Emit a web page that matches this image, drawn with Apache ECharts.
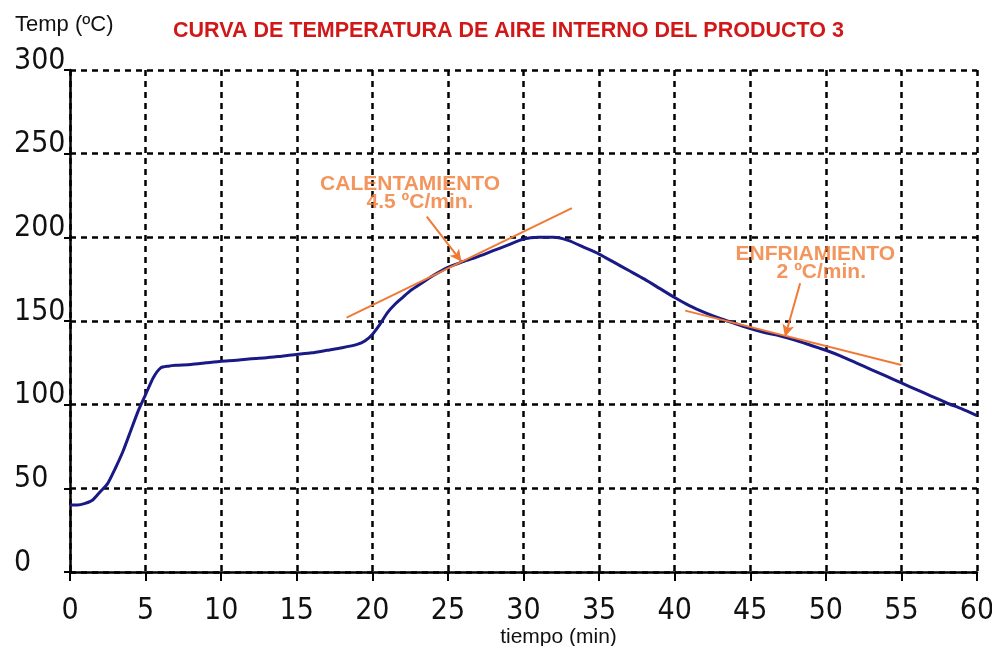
<!DOCTYPE html>
<html>
<head>
<meta charset="utf-8">
<title>Curva de temperatura</title>
<script src="https://cdn.jsdelivr.net/npm/echarts@6/dist/echarts.min.js"></script>
<style>
  html, body { margin: 0; padding: 0; background: #fff; }
  #chart { width: 992px; height: 646px; }
</style>
</head>
<body>
<div id="chart"></div>
<script>
// tiempo (min) y temperatura
var minutos = [0, 0.5, 1, 1.5, 2, 2.5, 3, 3.5, 4, 4.5, 5, 5.5, 6, 6.5, 7, 8, 9, 10, 11, 12, 13, 14, 15, 16, 17, 18, 19, 19.5, 20, 20.5, 21, 21.5, 22, 22.5, 23, 23.5, 24, 25, 26, 27, 28, 29, 30, 31, 32, 33, 34, 35, 36, 37, 38, 39, 40, 41, 42, 43, 44, 45, 46, 47, 48, 49, 50, 51, 52, 53, 54, 55, 56, 57, 58, 59, 60]
var tempAire = [40, 40, 41, 43, 48, 53, 62, 72, 84, 96, 106, 116, 122, 123, 123.5, 124, 125, 126, 126.5, 127.5, 128, 129, 130, 131, 132.5, 134, 136, 138, 142, 148, 155, 160, 164, 168, 171, 174, 177, 182, 185.5, 188.5, 192, 195.5, 199, 200, 200, 198, 194, 190, 185, 180, 175, 169.5, 164, 159, 155, 151.5, 148.5, 145.5, 143, 141, 138.5, 135.5, 132.5, 129, 125, 121, 117, 113, 109, 105, 101, 97.5, 93.5]

var xTicks = [0, 60, 5]     // min, max, intervalo
var yTicks = [0, 300, 50]

// rectas tangentes y flechas (en unidades del grafico)
var tangenteCalent = [[18.3, 152], [33.2, 217.4]]
var tangenteEnfri = [[40.7, 156.2], [55, 123.7]]
var flechaCalent = [[23.6, 212.4], [25.9, 185.5]]
var flechaEnfri = [[48.3, 172.6], [47.3, 140.6]]

// textos de anotacion: [x, y, texto]
var anotaciones = [
  [22.5, 231.5, 'CALENTAMIENTO'],
  [23.15, 221, '4.5 ºC/min.'],
  [49.3, 189.8, 'ENFRIAMIENTO'],
  [49.7, 179.3, '2 ºC/min.']
]

var naranja = '#f07a35'
var tickFont = "'DejaVu Sans Condensed', 'Liberation Sans', sans-serif"

var chart = echarts.init(document.getElementById('chart'), null, { renderer: 'canvas' })

var serieTemp = minutos.map(function (t, i) { return [t, tempAire[i]] })

var option = {
  animation: false,
  backgroundColor: '#fff',
  title: [
    {
      text: 'CURVA DE TEMPERATURA DE AIRE INTERNO DEL PRODUCTO 3',
      left: 168,
      top: 15,
      textStyle: {
        color: '#d01818',
        fontFamily: 'Liberation Sans, Arial, sans-serif',
        fontWeight: 'bold',
        fontSize: 21.5
      }
    },
    {
      text: 'Temp (ºC)',
      left: 10,
      top: 9,
      textStyle: {
        color: '#111',
        fontFamily: 'Liberation Sans, Arial, sans-serif',
        fontWeight: 'normal',
        fontSize: 22
      }
    }
  ],
  grid: {
    left: 70,
    right: 15,
    top: 70,
    bottom: 74,
    containLabel: false,
    outerBoundsMode: 'none'
  },
  xAxis: {
    type: 'value',
    min: xTicks[0],
    max: xTicks[1],
    interval: xTicks[2],
    name: 'tiempo (min)',
    nameLocation: 'middle',
    nameGap: 55,
    nameMoveOverlap: false,
    nameTextStyle: {
      color: '#111',
      fontFamily: 'Liberation Sans, Arial, sans-serif',
      fontSize: 21,
      padding: [0, 0, 0, 70]
    },
    axisLine: { show: true, onZero: false, lineStyle: { color: '#000', width: 2.5 } },
    axisTick: { show: true, length: 9, lineStyle: { color: '#000', width: 2 } },
    axisLabel: {
      color: '#111',
      fontFamily: tickFont,
      fontSize: 30,
      margin: 24
    },
    splitLine: {
      show: true,
      lineStyle: { color: '#000', width: 2.5, type: [6, 5] }
    }
  },
  yAxis: {
    type: 'value',
    min: yTicks[0],
    max: yTicks[1],
    interval: yTicks[2],
    axisLine: { show: true, onZero: false, lineStyle: { color: '#000', width: 2.5 } },
    axisTick: { show: true, length: 6, lineStyle: { color: '#000', width: 2 } },
    axisLabel: {
      color: '#111',
      fontFamily: tickFont,
      fontSize: 30,
      align: 'left',
      verticalAlign: 'bottom',
      margin: 56,
      lineHeight: 18
    },
    splitLine: {
      show: true,
      lineStyle: { color: '#000', width: 2.5, type: [6, 5] }
    }
  },
  series: [
    {
      name: 'Temperatura aire interno',
      type: 'line',
      data: serieTemp,
      showSymbol: false,
      smooth: 0.2,
      z: 5,
      lineStyle: { color: '#1a1a86', width: 3 }
    },
    {
      name: 'Tangente calentamiento',
      type: 'line',
      data: tangenteCalent,
      showSymbol: false,
      silent: true,
      z: 6,
      lineStyle: { color: naranja, width: 2 },
      markLine: {
        silent: true,
        symbol: ['none', 'arrow'],
        symbolSize: [9, 12],
        label: { show: false },
        lineStyle: { color: naranja, width: 2, type: 'solid' },
        data: [[{ coord: flechaCalent[0] }, { coord: flechaCalent[1] }]]
      }
    },
    {
      name: 'Tangente enfriamiento',
      type: 'line',
      data: tangenteEnfri,
      showSymbol: false,
      silent: true,
      z: 6,
      lineStyle: { color: naranja, width: 2 },
      markLine: {
        silent: true,
        symbol: ['none', 'arrow'],
        symbolSize: [9, 12],
        label: { show: false },
        lineStyle: { color: naranja, width: 2, type: 'solid' },
        data: [[{ coord: flechaEnfri[0] }, { coord: flechaEnfri[1] }]]
      }
    },
    {
      name: 'Anotaciones',
      type: 'scatter',
      silent: true,
      symbolSize: 1,
      itemStyle: { color: 'rgba(0,0,0,0)' },
      z: 7,
      data: anotaciones.map(function (a) { return { value: [a[0], a[1]], name: a[2] } }),
      label: {
        show: true,
        position: 'inside',
        formatter: function (p) { return p.name },
        color: naranja,
        fontFamily: 'Liberation Sans, Arial, sans-serif',
        fontWeight: 'bold',
        fontSize: 21,
        align: 'center',
        verticalAlign: 'middle'
      }
    }
  ]
}

chart.setOption(option)
</script>
</body>
</html>
